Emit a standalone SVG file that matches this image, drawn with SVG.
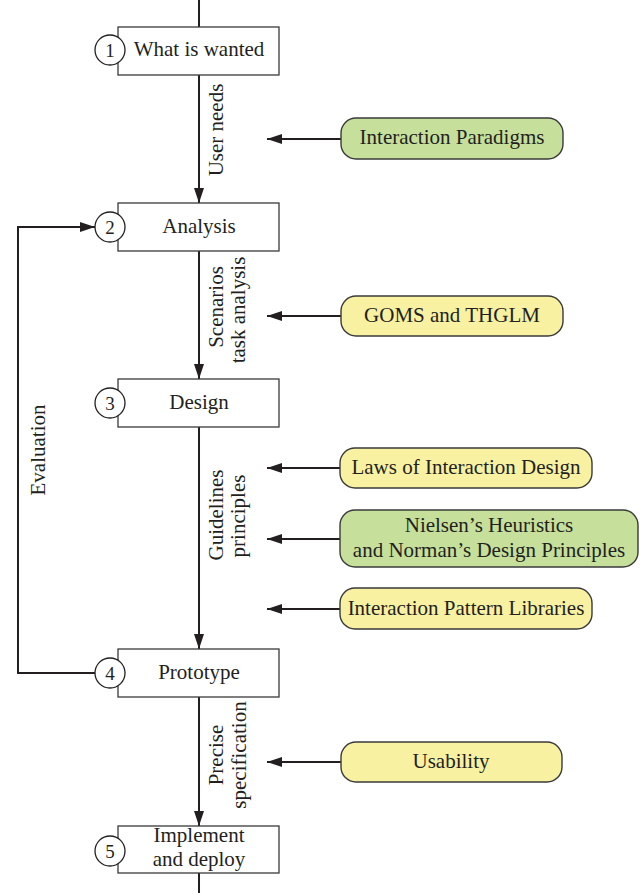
<svg xmlns="http://www.w3.org/2000/svg" width="641" height="893" viewBox="0 0 641 893">
  <style>
    text { font-family: "Liberation Serif", "Times New Roman", serif; fill: #231f20; }
    .step { fill: #ffffff; stroke: #3a3a3a; stroke-width: 1.3; }
    .num { fill: #ffffff; stroke: #231f20; stroke-width: 1.3; }
    .lbl { font-size: 21px; text-anchor: middle; }
    .digit { font-size: 19px; text-anchor: middle; }
    .edge { fill: none; stroke: #231f20; stroke-width: 2; }
    .pill { stroke: #3a3a3a; stroke-width: 1.4; }
    .green { fill: #c6e09c; }
    .yellow { fill: #f8f1a2; }
  </style>
  <defs>
    <marker id="head" markerUnits="userSpaceOnUse" markerWidth="15" markerHeight="10" refX="15" refY="5" orient="auto">
      <path d="M0,0 L15,5 L0,10 Z" fill="#231f20"/>
    </marker>
  </defs>

  <!-- connectors -->
  <g id="connectors">
    <line class="edge" x1="199" y1="0" x2="199" y2="27"/>
    <line class="edge" x1="199" y1="75" x2="199" y2="203" marker-end="url(#head)"/>
    <line class="edge" x1="199" y1="251" x2="199" y2="379" marker-end="url(#head)"/>
    <line class="edge" x1="199" y1="427" x2="199" y2="649" marker-end="url(#head)"/>
    <line class="edge" x1="199" y1="697" x2="199" y2="826" marker-end="url(#head)"/>
    <line class="edge" x1="199" y1="873" x2="199" y2="893"/>
    <path class="edge" d="M95,673 H18 V227 H95" marker-end="url(#head)"/>
    <line class="edge" x1="341" y1="139" x2="267" y2="139" marker-end="url(#head)"/>
    <line class="edge" x1="341" y1="316" x2="267" y2="316" marker-end="url(#head)"/>
    <line class="edge" x1="341" y1="468" x2="267" y2="468" marker-end="url(#head)"/>
    <line class="edge" x1="341" y1="539" x2="267" y2="539" marker-end="url(#head)"/>
    <line class="edge" x1="341" y1="609" x2="267" y2="609" marker-end="url(#head)"/>
    <line class="edge" x1="341" y1="762" x2="267" y2="762" marker-end="url(#head)"/>
  </g>

  <!-- connector labels -->
  <g id="edge-labels" class="lbl">
    <text class="lbl" transform="translate(223,130) rotate(-90)">User needs</text>
    <text class="lbl" transform="translate(223,307) rotate(-90)">Scenarios</text>
    <text class="lbl" transform="translate(245,310) rotate(-90)">task analysis</text>
    <text class="lbl" transform="translate(223,515) rotate(-90)">Guidelines</text>
    <text class="lbl" transform="translate(245,516) rotate(-90)">principles</text>
    <text class="lbl" transform="translate(223,755) rotate(-90)">Precise</text>
    <text class="lbl" transform="translate(246,755) rotate(-90)">specification</text>
    <text class="lbl" transform="translate(45,450) rotate(-90)">Evaluation</text>
  </g>

  <!-- process steps -->
  <g id="step1">
    <rect class="step" x="118" y="27" width="161" height="48"/>
    <circle class="num" cx="110" cy="50" r="15"/>
    <text class="digit" x="110" y="57">1</text>
    <text class="lbl" x="199" y="56">What is wanted</text>
  </g>
  <g id="step2">
    <rect class="step" x="118" y="203" width="161" height="48"/>
    <circle class="num" cx="110" cy="227" r="15"/>
    <text class="digit" x="110" y="234">2</text>
    <text class="lbl" x="199" y="233">Analysis</text>
  </g>
  <g id="step3">
    <rect class="step" x="118" y="379" width="161" height="48"/>
    <circle class="num" cx="110" cy="403" r="15"/>
    <text class="digit" x="110" y="410">3</text>
    <text class="lbl" x="199" y="409">Design</text>
  </g>
  <g id="step4">
    <rect class="step" x="118" y="649" width="161" height="48"/>
    <circle class="num" cx="110" cy="673" r="15"/>
    <text class="digit" x="110" y="680">4</text>
    <text class="lbl" x="199" y="679">Prototype</text>
  </g>
  <g id="step5">
    <rect class="step" x="118" y="826" width="161" height="47"/>
    <circle class="num" cx="110" cy="851" r="15"/>
    <text class="digit" x="110" y="858">5</text>
    <text class="lbl" x="199" y="842">Implement</text>
    <text class="lbl" x="199" y="866">and deploy</text>
  </g>

  <!-- inputs -->
  <g id="paradigms">
    <rect class="pill green" x="341" y="118" width="222" height="41" rx="15"/>
    <text class="lbl" x="452" y="144">Interaction Paradigms</text>
  </g>
  <g id="goms">
    <rect class="pill yellow" x="341" y="296" width="222" height="40" rx="15"/>
    <text class="lbl" x="452" y="322">GOMS and THGLM</text>
  </g>
  <g id="laws">
    <rect class="pill yellow" x="340" y="448" width="252" height="40" rx="15"/>
    <text class="lbl" x="466" y="474">Laws of Interaction Design</text>
  </g>
  <g id="heuristics">
    <rect class="pill green" x="340" y="510" width="298" height="57" rx="15"/>
    <text class="lbl" x="489" y="532">Nielsen’s Heuristics</text>
    <text class="lbl" x="489" y="557">and Norman’s Design Principles</text>
  </g>
  <g id="patterns">
    <rect class="pill yellow" x="340" y="588" width="252" height="41" rx="15"/>
    <text class="lbl" x="466" y="615">Interaction Pattern Libraries</text>
  </g>
  <g id="usability">
    <rect class="pill yellow" x="341" y="742" width="221" height="40" rx="15"/>
    <text class="lbl" x="451" y="768">Usability</text>
  </g>
</svg>
